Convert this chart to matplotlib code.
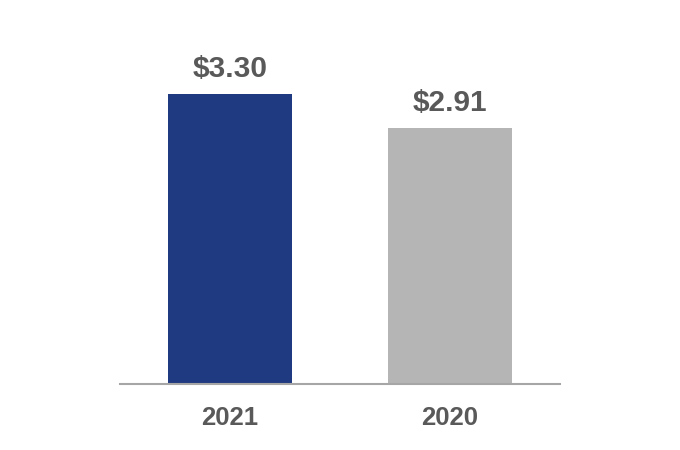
import matplotlib
matplotlib.use("Agg")
import matplotlib.pyplot as plt

# ---- data ----
years = ["2021", "2020"]
values = [3.30, 2.91]
value_labels = ["$3.30", "$2.91"]
bar_colors = ["#1f3a80", "#b5b5b5"]

plt.rcParams["font.family"] = ["Liberation Sans", "DejaVu Sans"]
text_color = "#595959"

fig = plt.figure(figsize=(6.8, 4.5), dpi=100)
# axes spans x 120..560 px, baseline at y=384 px
ax = fig.add_axes([120 / 680, 66 / 450, 440 / 680, 351.6 / 450])

x = range(len(years))
bars = ax.bar(x, values, width=0.564, color=bar_colors)

for b, lab in zip(bars, value_labels):
    ax.annotate(lab, (b.get_x() + b.get_width() / 2, b.get_height()),
                xytext=(0, 8), textcoords="offset points",
                ha="center", va="bottom", fontsize=21.5, fontweight="bold",
                color=text_color)

ax.set_xlim(-0.5, 1.5)
ax.set_ylim(0, 4)
ax.set_xticks(list(x))
ax.set_xticklabels(years, fontsize=18.5, fontweight="bold", color=text_color)
ax.tick_params(axis="x", length=0, pad=15.5)
ax.set_yticks([])

for s in ["top", "right", "left"]:
    ax.spines[s].set_visible(False)
ax.spines["bottom"].set_color("#a6a6a6")
ax.spines["bottom"].set_linewidth(1.5)

fig.savefig("out.png", dpi=100)
